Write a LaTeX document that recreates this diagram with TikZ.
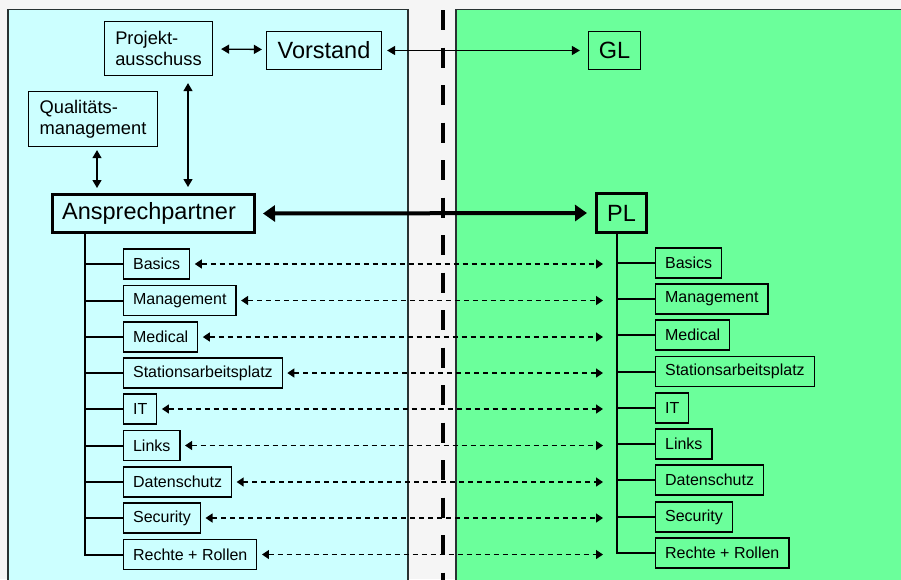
\documentclass[tikz,border=0pt]{standalone}
\usepackage{fontspec}
\setmainfont{Liberation Sans}
\usetikzlibrary{arrows.meta,calc}
\definecolor{bggray}{RGB}{245,245,245}
\definecolor{leftcol}{RGB}{204,255,255}
\definecolor{rightcol}{RGB}{107,255,155}
\definecolor{panelline}{RGB}{40,50,50}
\begin{document}
\begin{tikzpicture}[x=1pt,y=-1pt,
  panel/.style={draw=panelline,line width=1.2pt},
  bigbox/.style={draw=black,line width=1.2pt,inner sep=0pt,font=\fontsize{23.5}{27}\selectfont},
  thickbox/.style={draw=black,line width=3pt,inner sep=0pt,font=\fontsize{23.5}{27}\selectfont},
  twobox/.style={draw=black,line width=1.2pt,inner sep=0pt,align=left,font=\fontsize{18.3}{21}\selectfont},
  smallbox/.style={draw=black,line width=1.2pt,inner xsep=9.5pt,inner ysep=0pt,minimum height=30pt,anchor=west,font=\fontsize{16}{19}\selectfont},
  thinarrow/.style={line width=1.3pt,{Triangle[length=8pt,width=9pt]}-{Triangle[length=8pt,width=9pt]}},
  thickarrow/.style={line width=4pt,{Triangle[length=12pt,width=16pt]}-{Triangle[length=12pt,width=16pt]}},
  dasharrow/.style={line width=1.3pt,dash pattern=on 5pt off 4pt,{Triangle[length=7pt,width=9pt]}-{Triangle[length=7pt,width=9pt]}},
  treeline/.style={line width=2pt}]
\useasboundingbox (0,0) rectangle (901,579);
\fill[bggray] (0,0) rectangle (901,579);
% panels
\draw[panel,fill=leftcol] (8,9.5) rectangle (408,600);
\draw[panel,fill=rightcol] (456,9.5) rectangle (920,600);
\draw[line width=4.5pt,dash pattern=on 20pt off 17.5pt] (443,10) -- (443,600);
% top nodes
\node[twobox,minimum width=108pt,minimum height=54pt] (proj) at (158.5,48.5) {Projekt-\\ausschuss};
\node[bigbox,minimum width=115pt,minimum height=38pt] (vor) at (324,50.5) {Vorstand};
\node[bigbox,minimum width=52pt,minimum height=38pt] (gl) at (614.5,50.5) {GL};
\node[twobox,minimum width=129pt,minimum height=55pt] (qual) at (93,119) {Qualitäts-\\management};
\node[thickbox,minimum width=202pt,minimum height=38pt] (ansp) at (153.5,213.5) {Ansprechpartner\hspace*{9pt}};
\node[thickbox,minimum width=50pt,minimum height=39pt] (pl) at (621.5,213) {PL};
% top connectors
\draw[thinarrow,shorten <=8pt,shorten >=4pt] ($(proj.east)+(0,0.5)$) -- ($(vor.west)+(0,-1)$);
\draw[thinarrow,shorten <=5pt,shorten >=8pt] (vor.east) -- (gl.west);
\draw[thinarrow,shorten <=3pt,shorten >=5pt] ($(qual.south)+(4,0)$) -- ($(ansp.north)+(-56.5,0)$);
\draw[thinarrow,shorten <=7pt,shorten >=6pt] ($(proj.south)+(29.5,0)$) -- ($(ansp.north)+(34.5,0)$);
\draw[thickarrow,shorten <=7pt,shorten >=8pt] (ansp.east) -- (pl.west);
% left sub-boxes
\node[smallbox] (l1) at (123,264) {Basics};
\node[smallbox] (l2) at (123,300.5) {Management};
\node[smallbox] (l3) at (123,337) {Medical};
\node[smallbox] (l4) at (123,373) {Stationsarbeitsplatz};
\node[smallbox] (l5) at (123,409) {IT};
\node[smallbox] (l6) at (123,445.5) {Links};
\node[smallbox] (l7) at (123,482) {Datenschutz};
\node[smallbox] (l8) at (123,518) {Security};
\node[smallbox] (l9) at (123,554.5) {Rechte + Rollen};
% right sub-boxes
\node[smallbox] (r1) at (655,263) {Basics};
\node[smallbox] (r2) at (655,299) {Management};
\node[smallbox] (r3) at (655,335) {Medical};
\node[smallbox] (r4) at (655,371.5) {Stationsarbeitsplatz};
\node[smallbox] (r5) at (655,408) {IT};
\node[smallbox] (r6) at (655,444) {Links};
\node[smallbox] (r7) at (655,480) {Datenschutz};
\node[smallbox] (r8) at (655,517) {Security};
\node[smallbox] (r9) at (655,553) {Rechte + Rollen};
% trees
\coordinate (lt) at (85,234);
\coordinate (rt) at (617,234);
\draw[treeline] (lt) |- (l9.west);
\draw[treeline] (rt) |- (r9.west);
\foreach \i in {1,...,8}{
  \draw[treeline] (l\i.west) -- (l\i.west -| lt);
  \draw[treeline] (r\i.west) -- (r\i.west -| rt);
}
% dashed connectors
\foreach \i in {1,...,9}{
  \coordinate (e\i) at (l\i.west -| 603,0);
  \draw[dasharrow,shorten <=4.5pt] (l\i.east) -- (e\i);
}
\end{tikzpicture}
\end{document}
